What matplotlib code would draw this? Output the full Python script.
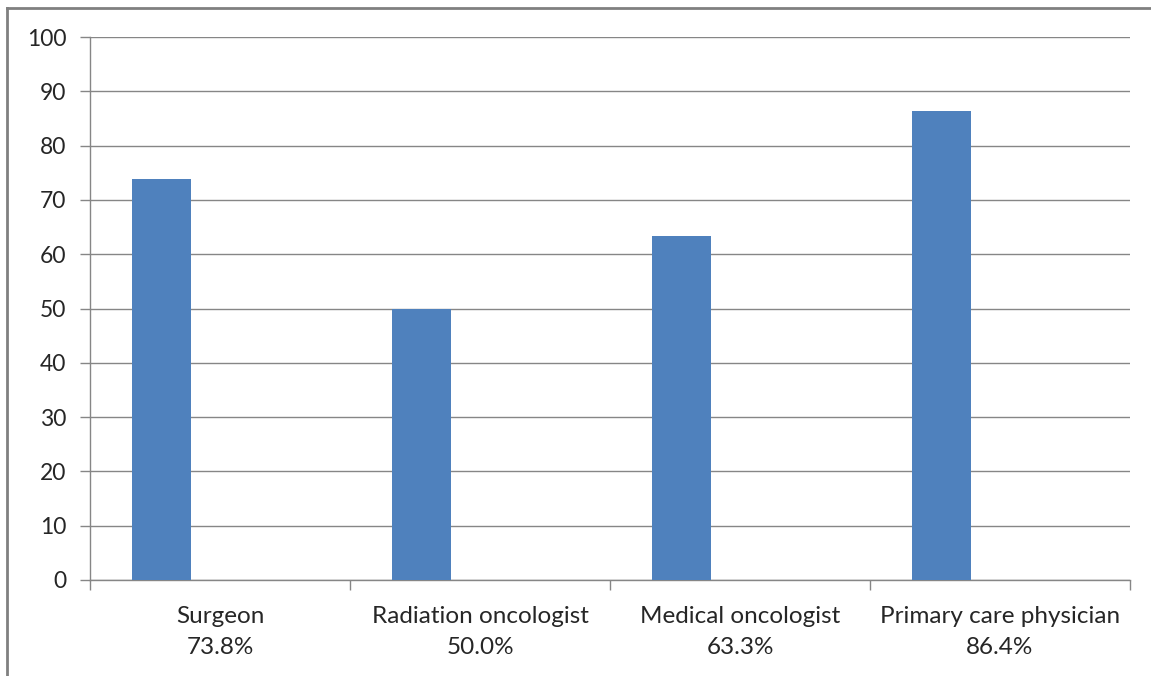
import matplotlib.pyplot as plt
import numpy as np
from matplotlib.lines import Line2D

categories = ["Surgeon", "Radiation oncologist", "Medical oncologist", "Primary care physician"]
values = [73.8, 50.0, 63.3, 86.4]
pct_labels = ["73.8%", "50.0%", "63.3%", "86.4%"]

plt.rcParams['font.family'] = ['Lato', 'DejaVu Sans']

fig = plt.figure(figsize=(11.51, 6.76), dpi=100)
ax = fig.add_axes([90/1151, 1 - 580/676, 1040/1151, 543/676])

x = np.arange(len(categories))
ax.bar(x + 0.275, values, width=0.227, color="#4F81BD", zorder=3)

ax.set_xlim(0, 4)
ax.set_ylim(0, 100)
ax.set_yticks(np.arange(0, 101, 10))
ax.grid(axis='y', color="#868686", linewidth=1, zorder=0)

ax.set_xticks(np.arange(0, 5))
ax.set_xticklabels([])
ax.set_xticks(x + 0.5, minor=True)
ax.set_xticklabels([c + "\n" + p for c, p in zip(categories, pct_labels)], minor=True,
                   linespacing=1.55)
ax.tick_params(axis='x', which='minor', length=0, pad=19, labelsize=17.5, labelcolor="#262626")
ax.tick_params(axis='x', which='major', length=7, color="#868686", width=1)
ax.tick_params(axis='y', length=7, color="#868686", width=1, pad=10, labelsize=16.5, labelcolor="#262626")

for s in ['top', 'right']:
    ax.spines[s].set_visible(False)
for s in ['left', 'bottom']:
    ax.spines[s].set_color("#868686")
    ax.spines[s].set_linewidth(1)

# outer frame of the chart area
fig.add_artist(Line2D([7.5/1151, 7.5/1151], [0, 1 - 7.5/676], color="#808080", linewidth=2))
fig.add_artist(Line2D([7.5/1151, 1], [1 - 7.5/676, 1 - 7.5/676], color="#808080", linewidth=2))

plt.savefig("out.png", dpi=100)
